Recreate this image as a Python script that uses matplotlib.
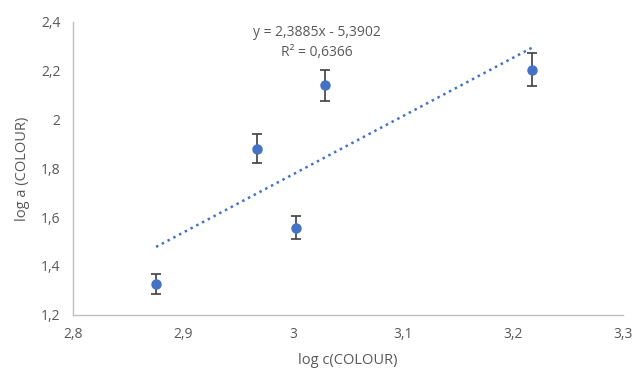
import matplotlib.pyplot as plt
from matplotlib.ticker import FuncFormatter

# data
log_c = [2.8755, 2.967, 3.0027, 3.0288, 3.2176]
log_a = [1.326, 1.881, 1.557, 2.140, 2.205]
err = [0.040, 0.058, 0.047, 0.064, 0.067]

slope = 2.3885
intercept = -5.3902
r2 = 0.6366

plt.rcParams['font.family'] = ['Open Sans', 'DejaVu Sans']
grey = '#595959'
blue = '#4472C4'

fig = plt.figure(figsize=(6.35, 3.72), dpi=100)
ax = fig.add_axes([0.115, 0.154, 0.866, 0.787])

x0, x1 = min(log_c), max(log_c)
ax.plot([x0, x1], [slope * x0 + intercept, slope * x1 + intercept],
        linestyle=(0, (1, 1.6)), color=blue, linewidth=1.8, zorder=2)

ax.errorbar(log_c, log_a, yerr=err, fmt='o', color=blue, markersize=6.5,
            ecolor='#404040', elinewidth=1.2, capsize=3.5, capthick=1.2, zorder=3)

ax.set_xlim(2.8, 3.3)
ax.set_ylim(1.2, 2.4)
ax.set_xticks([2.8, 2.9, 3.0, 3.1, 3.2, 3.3])
ax.set_yticks([1.2, 1.4, 1.6, 1.8, 2.0, 2.2, 2.4])

def comma(v, pos):
    s = ('%.1f' % v).rstrip('0').rstrip('.')
    return s.replace('.', ',')

ax.xaxis.set_major_formatter(FuncFormatter(comma))
ax.yaxis.set_major_formatter(FuncFormatter(comma))

for s in ['top', 'right']:
    ax.spines[s].set_visible(False)
for s in ['left', 'bottom']:
    ax.spines[s].set_color('#bfbfbf')
    ax.spines[s].set_linewidth(1)
ax.tick_params(length=0, labelsize=10, colors=grey, pad=9)

ax.set_xlabel('log c(COLOUR)', fontsize=10.5, color=grey, labelpad=8)
ax.set_ylabel('log a (COLOUR)', fontsize=10.5, color=grey, labelpad=8)

ax.text(0.443, 0.99, 'y = 2,3885x - 5,3902\nR² = 0,6366', transform=ax.transAxes,
        ha='center', va='top', fontsize=10, color=grey, linespacing=1.45)

fig.savefig('out.png', dpi=100)
